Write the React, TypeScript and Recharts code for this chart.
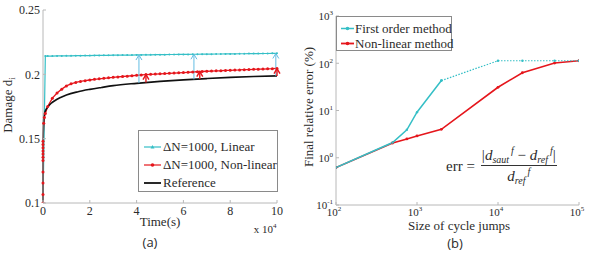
import React from 'react';
import { LineChart, Line, XAxis, YAxis, ReferenceLine } from 'recharts';

const SERIF = '"Liberation Serif", "DejaVu Serif", serif';
const SANS = '"Open Sans", "Liberation Sans", sans-serif';
const TEXT = '#2b2b2b';
const AXIS = '#b8b8b8';
const CYAN = '#35bfc6';
const ARROW_CYAN = '#63bde3';
const RED = '#e5161c';
const BLACK = '#111111';

// ---------- panel (a): damage vs time (time in units of 1e4 s) ----------
const timeTicks = [0, 2, 4, 6, 8, 10];
const damageTicks = [0.1, 0.15, 0.2, 0.25];

const refTime = [0, 0.003, 0.01, 0.02, 0.03, 0.06, 0.1, 0.2, 0.35, 0.5, 0.75, 1, 1.5, 2, 2.5, 3, 4, 5, 6, 7, 8, 9, 10];
const refDamage = [0.1, 0.13, 0.15, 0.16, 0.165, 0.169, 0.1715, 0.1745, 0.1775, 0.1795, 0.182, 0.184, 0.1865, 0.1883, 0.1898, 0.1912, 0.193, 0.1945, 0.1957, 0.1967, 0.1976, 0.1983, 0.1988];

// jump instants every 2000 cycles
const stepTime = [
  0.2, 0.4, 0.6, 0.8, 1.0, 1.2, 1.4, 1.6, 1.8, 2.0,
  2.2, 2.4, 2.6, 2.8, 3.0, 3.2, 3.4, 3.6, 3.8, 4.0,
  4.2, 4.4, 4.6, 4.8, 5.0, 5.2, 5.4, 5.6, 5.8, 6.0,
  6.2, 6.4, 6.6, 6.8, 7.0, 7.2, 7.4, 7.6, 7.8, 8.0,
  8.2, 8.4, 8.6, 8.8, 9.0, 9.2, 9.4, 9.6, 9.8, 10.0,
];

const nlTime = [0, 0, 0, 0, 0, 0, 0, 0, 0, 0, 0, 0.03, 0.06, 0.1, ...stepTime];
const nlDamage = [
  0.1, 0.1066, 0.1156, 0.124, 0.133, 0.1355, 0.138, 0.1405, 0.143, 0.1455, 0.148,
  0.162, 0.1665, 0.1695,
  0.175, 0.1815, 0.1855, 0.1885, 0.191, 0.1926, 0.1937, 0.1945, 0.1951, 0.1956,
  0.1961, 0.1965, 0.1969, 0.1973, 0.1977, 0.198, 0.1983, 0.1986, 0.1989, 0.1992,
  0.1995, 0.1998, 0.2, 0.2002, 0.2004, 0.2006, 0.2008, 0.201, 0.2012, 0.2014,
  0.2016, 0.2018, 0.202, 0.2022, 0.2024, 0.2025, 0.2027, 0.2028, 0.203, 0.2031,
  0.2033, 0.2034, 0.2036, 0.2037, 0.2039, 0.204, 0.2041, 0.2043, 0.2044, 0.2046,
];

const linTime = [0, 0.1, ...stepTime];
const linDamage = [
  0.1, 0.2142,
  0.2142, 0.2142, 0.2143, 0.2143, 0.2144, 0.2144, 0.2145, 0.2145, 0.2146, 0.2146,
  0.2147, 0.2147, 0.2148, 0.2148, 0.2149, 0.2149, 0.215, 0.215, 0.215, 0.2151,
  0.2151, 0.2152, 0.2152, 0.2153, 0.2153, 0.2153, 0.2154, 0.2154, 0.2155, 0.2155,
  0.2155, 0.2156, 0.2156, 0.2157, 0.2157, 0.2157, 0.2158, 0.2158, 0.2159, 0.2159,
  0.2159, 0.216, 0.216, 0.2161, 0.2161, 0.2161, 0.2162, 0.2162, 0.2163, 0.2163,
];

// error arrows between the reference curve and each method
const linArrowTime = [4.1, 6.45, 9.95];
const linArrowFrom = [0.1932, 0.1961, 0.1988];
const linArrowTo = [0.215, 0.2156, 0.2162];
const nlArrowTime = [4.4, 6.7, 10];
const nlArrowFrom = [0.1936, 0.1963, 0.1988];
const nlArrowTo = [0.1997, 0.2021, 0.2045];

// ---------- panel (b): final error vs jump size (log-log) ----------
const jumpTicks = [100, 1000, 10000, 100000];
const errTicks = [0.1, 1, 10, 100, 1000];
const jumpSize = [100, 500, 750, 1000, 2000, 10000, 20000, 50000, 100000];
const firstOrderErr = [0.62, 2.1, 3.9, 9.2, 43, 113, 113, 113, 113];
const nonLinearErr = [0.62, 2.05, 2.5, 2.9, 4.0, 31, 63, 101, 113];

const zip = (xs: number[], ys: number[], kx: string, ky: string) =>
  xs.map((x, i) => ({ [kx]: x, [ky]: ys[i] }));

const refData = zip(refTime, refDamage, 't', 'd');
const nlData = zip(nlTime, nlDamage, 't', 'd');
const linData = zip(linTime, linDamage, 't', 'd');
const firstData = zip(jumpSize, firstOrderErr, 'n', 'e');
const nonlinData = zip(jumpSize, nonLinearErr, 'n', 'e');
const firstSolid = firstData.slice(0, 5);
const firstDotted = firstData.slice(4);

const TICK_MARGIN = 3;

const fmtDamage = (v: number) => String(v);

function XTickA(props: any) {
  const { x, y, payload } = props;
  return (
    <g>
      <line x1={x} x2={x} y1={y - TICK_MARGIN} y2={y - TICK_MARGIN - 3} stroke={AXIS} />
      <text x={x} y={y} dy="0.75em" textAnchor="middle" style={{ fontFamily: SERIF }} fontSize={12} fill={TEXT}>
        {payload.value}
      </text>
    </g>
  );
}

function YTickA(props: any) {
  const { x, y, payload } = props;
  return (
    <g>
      <line x1={x + TICK_MARGIN} x2={x + TICK_MARGIN + 3} y1={y} y2={y} stroke={AXIS} />
      <text x={x} y={y} dy="0.35em" textAnchor="end" style={{ fontFamily: SERIF }} fontSize={12} fill={TEXT}>
        {fmtDamage(payload.value)}
      </text>
    </g>
  );
}

const expOf = (v: number) => String(Math.round(Math.log10(v)));

function XTickB(props: any) {
  const { x, y, payload } = props;
  return (
    <g>
      <line x1={x} x2={x} y1={y - TICK_MARGIN} y2={y - TICK_MARGIN - 3} stroke={AXIS} />
      <text x={x - 2} y={y} dy="0.75em" textAnchor="middle" style={{ fontFamily: SERIF }} fontSize={11} fill={TEXT}>
        10<tspan dy={-5} fontSize={7}>{expOf(payload.value)}</tspan>
      </text>
    </g>
  );
}

function YTickB(props: any) {
  const { x, y, payload } = props;
  return (
    <g>
      <line x1={x + TICK_MARGIN} x2={x + TICK_MARGIN + 3} y1={y} y2={y} stroke={AXIS} />
      <text x={x} y={y} dy="0.4em" textAnchor="end" style={{ fontFamily: SERIF }} fontSize={11} fill={TEXT}>
        10<tspan dy={-5} fontSize={7}>{expOf(payload.value)}</tspan>
      </text>
    </g>
  );
}

function arrowShape(color: string, width: number) {
  return (p: any) => {
    const { x1, y1, x2, y2 } = p;
    if ([x1, y1, x2, y2].some((v) => typeof v !== 'number' || isNaN(v))) return <g />;
    return (
      <g>
        <line x1={x1} y1={y1} x2={x2} y2={y2} stroke={color} strokeWidth={width} />
        <path
          d={`M${x2 - 3},${y2 + 5} L${x2},${y2} L${x2 + 3},${y2 + 5}`}
          fill="none"
          stroke={color}
          strokeWidth={width}
        />
      </g>
    );
  };
}

type LegendItem = { label: string; color: string; marker: 'tri' | 'dot' | 'none'; width: number };

function LegendBox(props: {
  left: number;
  top: number;
  items: LegendItem[];
  width: number;
  height: number;
  padTop: number;
  rowH: number;
  fontSize: number;
  lineX0: number;
  lineX1: number;
  textX: number;
}) {
  const { left, top, items, width, height, padTop, rowH, fontSize, lineX0, lineX1, textX } = props;
  return (
    <div
      style={{
        position: 'absolute',
        left,
        top,
        width,
        height,
        boxSizing: 'border-box',
        border: '1px solid #8a8a8a',
        background: '#fff',
      }}
    >
      {items.map((it, i) => {
        const cy = padTop + rowH * i;
        const mx = (lineX0 + lineX1) / 2;
        return (
          <div key={it.label} style={{ position: 'absolute', left: 0, top: cy - rowH / 2, height: rowH, width: '100%' }}>
            <svg width={lineX1 + 2} height={rowH} style={{ position: 'absolute', left: 0, top: 0 }}>
              <line x1={lineX0} x2={lineX1} y1={rowH / 2} y2={rowH / 2} stroke={it.color} strokeWidth={it.width} />
              {it.marker === 'dot' && <circle cx={mx} cy={rowH / 2} r={1.8} fill={it.color} />}
              {it.marker === 'tri' && (
                <path d={`M${mx - 2},${rowH / 2 + 1.5} L${mx},${rowH / 2 - 2} L${mx + 2},${rowH / 2 + 1.5} Z`} fill={it.color} />
              )}
            </svg>
            <span
              style={{
                position: 'absolute',
                left: textX,
                top: 0,
                lineHeight: `${rowH}px`,
                fontFamily: SERIF,
                fontSize,
                color: TEXT,
                whiteSpace: 'nowrap',
              }}
            >
              {it.label}
            </span>
          </div>
        );
      })}
    </div>
  );
}

const legendA: LegendItem[] = [
  { label: 'ΔN=1000, Linear', color: CYAN, marker: 'tri', width: 1.2 },
  { label: 'ΔN=1000, Non-linear', color: RED, marker: 'dot', width: 1.2 },
  { label: 'Reference', color: BLACK, marker: 'none', width: 1.8 },
];

const legendB: LegendItem[] = [
  { label: 'First order method', color: CYAN, marker: 'dot', width: 1.5 },
  { label: 'Non-linear method', color: RED, marker: 'dot', width: 1.8 },
];

function Caption(props: { x: number; y: number; size: number; font?: string; rotate?: boolean; children: React.ReactNode }) {
  const { x, y, size, font, rotate, children } = props;
  return (
    <div
      style={{
        position: 'absolute',
        left: x,
        top: y,
        transform: `translate(-50%, -50%)${rotate ? ' rotate(-90deg)' : ''}`,
        fontFamily: font || SERIF,
        fontSize: size,
        lineHeight: 1,
        color: TEXT,
        whiteSpace: 'nowrap',
      }}
    >
      {children}
    </div>
  );
}

const subStyle: React.CSSProperties = { fontSize: 10, verticalAlign: '-3px', fontStyle: 'italic', lineHeight: 0 };
const supStyle: React.CSSProperties = { fontSize: 10, verticalAlign: '6px', fontStyle: 'italic', marginLeft: 2, lineHeight: 0 };

export default function App() {
  return (
    <div style={{ position: 'fixed', left: 0, top: 0, width: 592, height: 254, background: '#fff', overflow: 'hidden' }}>
      {/* panel (a) */}
      <div style={{ position: 'absolute', left: 0, top: 0, width: 300, height: 254 }}>
        <LineChart width={300} height={254} margin={{ top: 10, right: 23, bottom: 0, left: 0 }}>
          <XAxis
            type="number"
            dataKey="t"
            domain={[0, 10]}
            ticks={timeTicks}
            height={51}
            stroke={AXIS}
            tickLine={false}
            tickSize={0}
            tickMargin={TICK_MARGIN}
            tick={<XTickA />}
            interval={0}
          />
          <YAxis
            type="number"
            dataKey="d"
            domain={[0.1, 0.25]}
            ticks={damageTicks}
            width={43}
            stroke={AXIS}
            tickLine={false}
            tickSize={0}
            tickMargin={TICK_MARGIN}
            tick={<YTickA />}
            interval={0}
            allowDataOverflow
          />
          <Line
            data={linData}
            dataKey="d"
            type="linear"
            stroke={CYAN}
            strokeWidth={1.2}
            dot={{ r: 1, fill: CYAN, stroke: 'none' }}
            isAnimationActive={false}
          />
          <Line
            data={nlData}
            dataKey="d"
            type="linear"
            stroke={RED}
            strokeWidth={1.3}
            dot={{ r: 1.5, fill: RED, stroke: 'none' }}
            isAnimationActive={false}
          />
          <Line
            data={refData}
            dataKey="d"
            type="monotone"
            stroke={BLACK}
            strokeWidth={1.6}
            dot={false}
            isAnimationActive={false}
          />
          {linArrowTime.map((t, i) => (
            <ReferenceLine
              key={`la${i}`}
              segment={[{ x: t, y: linArrowFrom[i] }, { x: t, y: linArrowTo[i] }]}
              shape={arrowShape(ARROW_CYAN, 1)}
            />
          ))}
          {nlArrowTime.map((t, i) => (
            <ReferenceLine
              key={`na${i}`}
              segment={[{ x: t, y: nlArrowFrom[i] }, { x: t, y: nlArrowTo[i] }]}
              shape={arrowShape(RED, 1.4)}
            />
          ))}
        </LineChart>
        <LegendBox
          left={138}
          top={130}
          items={legendA}
          width={140}
          height={62}
          padTop={16}
          rowH={18}
          fontSize={13}
          lineX0={5}
          lineX1={22}
          textX={24}
        />
        <Caption x={9} y={105} size={13} rotate>
          Damage d<span style={{ fontSize: 9, verticalAlign: '-3px' }}>i</span>
        </Caption>
        <Caption x={160} y={221} size={13}>Time(s)</Caption>
        <Caption x={265} y={229} size={11}>
          x 10<span style={{ fontSize: 7, verticalAlign: '5px' }}>4</span>
        </Caption>
        <Caption x={150} y={242} size={13} font={SANS}>(a)</Caption>
      </div>

      {/* panel (b) */}
      <div style={{ position: 'absolute', left: 300, top: 0, width: 292, height: 254 }}>
        <LineChart width={292} height={254} margin={{ top: 16, right: 13, bottom: 0, left: 0 }}>
          <XAxis
            type="number"
            dataKey="n"
            scale="log"
            domain={[100, 100000]}
            ticks={jumpTicks}
            height={49}
            stroke={AXIS}
            tickLine={false}
            tickSize={0}
            tickMargin={TICK_MARGIN}
            tick={<XTickB />}
            interval={0}
            allowDataOverflow
          />
          <YAxis
            type="number"
            dataKey="e"
            scale="log"
            domain={[0.1, 1000]}
            ticks={errTicks}
            width={36}
            stroke={AXIS}
            tickLine={false}
            tickSize={0}
            tickMargin={TICK_MARGIN}
            tick={<YTickB />}
            interval={0}
            allowDataOverflow
          />
          <Line
            data={nonlinData}
            dataKey="e"
            type="linear"
            stroke={RED}
            strokeWidth={1.6}
            dot={{ r: 1.4, fill: RED, stroke: 'none' }}
            isAnimationActive={false}
          />
          <Line
            data={firstSolid}
            dataKey="e"
            type="linear"
            stroke={CYAN}
            strokeWidth={1.5}
            dot={{ r: 1.2, fill: CYAN, stroke: 'none' }}
            isAnimationActive={false}
          />
          <Line
            data={firstDotted}
            dataKey="e"
            type="linear"
            stroke={CYAN}
            strokeWidth={1.2}
            strokeDasharray="1.5 1.5"
            dot={{ r: 1.2, fill: CYAN, stroke: 'none' }}
            isAnimationActive={false}
          />
        </LineChart>
        <LegendBox
          left={36}
          top={16}
          items={legendB}
          width={116}
          height={35}
          padTop={11}
          rowH={15}
          fontSize={13}
          lineX0={4}
          lineX1={17}
          textX={18}
        />
        <Caption x={8} y={107} size={13} rotate>Final relative error (%)</Caption>
        <Caption x={159} y={225} size={13}>Size of cycle jumps</Caption>
        <Caption x={155} y={243} size={13} font={SANS}>(b)</Caption>

        {/* error definition */}
        <div
          style={{
            position: 'absolute',
            left: 146,
            top: 147,
            display: 'flex',
            alignItems: 'center',
            fontFamily: SERIF,
            fontSize: 15,
            color: TEXT,
            whiteSpace: 'nowrap',
          }}
        >
          <span style={{ marginRight: 6 }}>err =</span>
          <span style={{ display: 'inline-flex', flexDirection: 'column', alignItems: 'center', lineHeight: '17px' }}>
            <span style={{ borderBottom: '1px solid #333', padding: '0 1px 1px' }}>
              |<i>d</i>
              <span style={subStyle}>saut</span>
              <span style={supStyle}>f</span> − <i>d</i>
              <span style={subStyle}>ref</span>
              <span style={supStyle}>f</span>|
            </span>
            <span style={{ paddingTop: 2 }}>
              <i>d</i>
              <span style={subStyle}>ref</span>
              <span style={supStyle}>f</span>
            </span>
          </span>
        </div>
      </div>
    </div>
  );
}
